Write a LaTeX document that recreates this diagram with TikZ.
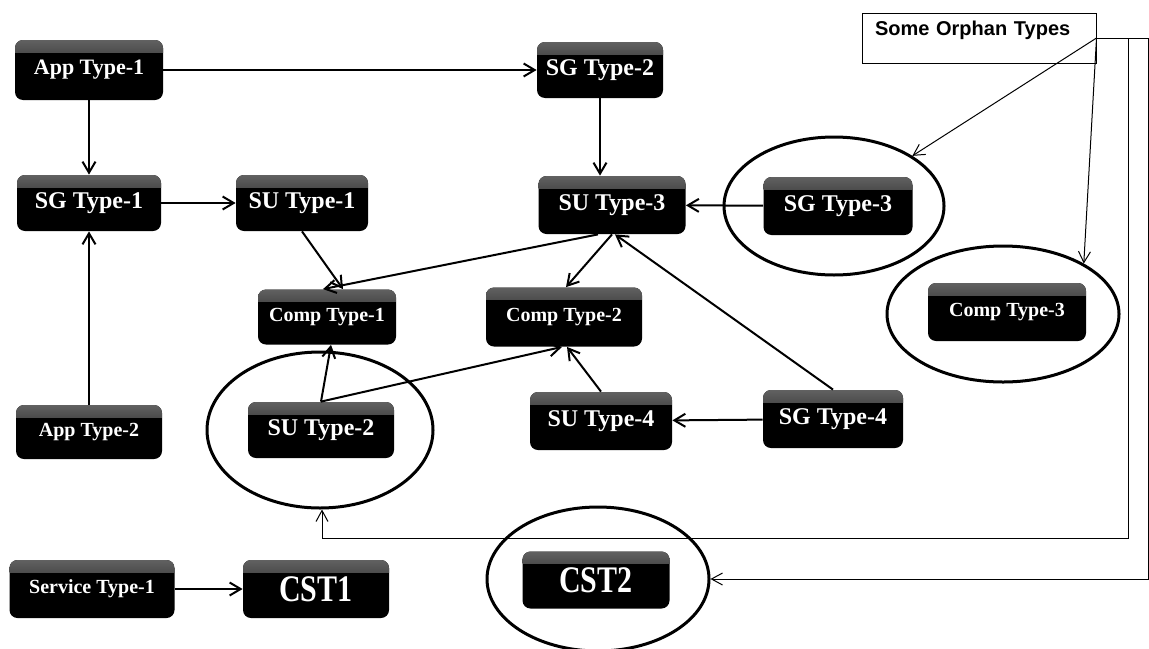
\documentclass[tikz,border=0pt]{standalone}
\usepackage{fontspec}
\setmainfont{Liberation Serif}
\newfontfamily\notefont{Liberation Sans}
\usepackage{graphicx}
\usetikzlibrary{arrows.meta,shapes.geometric,calc}

\begin{document}
\begin{tikzpicture}[x=0.5pt,y=-0.5pt,
  tbox/.style={rounded corners=4pt, fill=black, text=white, inner sep=0pt,
    path picture={\shade[sharp corners, top color=black!62, bottom color=black]
      (path picture bounding box.north west) rectangle ([yshift=-6pt]path picture bounding box.north east);}},
  fs/.style={font=\fontsize{10}{12}\selectfont\bfseries},
  fa/.style={font=\fontsize{11}{13}\selectfont\bfseries},
  fm/.style={font=\fontsize{12}{14}\selectfont\bfseries},
  fl/.style={font=\fontsize{15}{18}\selectfont\bfseries},
  ring/.style={draw, ellipse, line width=1.5pt, inner sep=0pt},
  link/.style={line width=1pt, -{Straight Barb[length=5.5pt,width=6.5pt]}},
  hint/.style={line width=0.5pt, -{Straight Barb[length=5.5pt,width=6pt]}},
  callout/.style={draw, line width=0.5pt, align=left, inner xsep=6.5pt, inner ysep=3pt,
    text width=104pt, text height=8pt, text depth=11pt,
    font=\notefont\fontsize{10}{12}\selectfont\bfseries}
]
\useasboundingbox (0,0) rectangle (1149,648);

% type boxes
\node[tbox, fa, minimum width=74pt,   minimum height=30pt]   (a1)  at (89,70)   {App Type-1};
\node[tbox, fm, minimum width=63pt,   minimum height=28pt]   (sg2) at (600,70)  {SG Type-2};
\node[tbox, fm, minimum width=72pt,   minimum height=28pt]   (sg1) at (89,203)  {SG Type-1};
\node[tbox, fm, minimum width=66pt,   minimum height=28pt]   (su1) at (302,203) {SU Type-1};
\node[tbox, fm, minimum width=73.5pt, minimum height=29pt]   (su3) at (612,205) {SU Type-3};
\node[tbox, fm, minimum width=74.5pt, minimum height=29pt]   (sg3) at (838,206) {SG Type-3};
\node[tbox, fs, minimum width=69pt,   minimum height=27.5pt] (c1)  at (327,317) {Comp Type-1};
\node[tbox, fs, minimum width=78pt,   minimum height=29.5pt] (c2)  at (564,317) {Comp Type-2};
\node[tbox, fs, minimum width=79pt,   minimum height=29pt]   (c3)  at (1007,312) {Comp Type-3};
\node[tbox, fs, minimum width=73pt,   minimum height=27pt]   (a2)  at (89,432)  {App Type-2};
\node[tbox, fm, minimum width=73pt,   minimum height=28pt]   (su2) at (321,430) {SU Type-2};
\node[tbox, fm, minimum width=71pt,   minimum height=29pt]   (su4) at (601,421) {SU Type-4};
\node[tbox, fm, minimum width=70pt,   minimum height=29pt]   (sg4) at (833,419) {SG Type-4};
\node[tbox, fs, minimum width=82.5pt, minimum height=29pt]   (st1) at (92,589)  {Service Type-1};
\node[tbox, fl, minimum width=73pt,   minimum height=29pt]   (cst1) at (316,589) {\scalebox{1}[1.25]{CST1}};
\node[tbox, fl, minimum width=73.5pt, minimum height=28.5pt] (cst2) at (596,580) {\scalebox{1}[1.25]{CST2}};

% rings around the orphan types
\node[ring, minimum width=110pt,  minimum height=69pt] (e3)    at (834,206) {};
\node[ring, minimum width=116pt,  minimum height=68pt] (ec3)   at (1003,314) {};
\node[ring, minimum width=113pt,  minimum height=78pt] (es2)   at (320,430) {};
\node[ring, minimum width=111pt,  minimum height=72pt] (ecst2) at (598,579) {};

% relations between types
\draw[link] (a1) -- (sg2);
\draw[link] (a1) -- (sg1);
\draw[link] (sg2.south) -- (sg2.south |- su3.north);
\draw[link] (sg1) -- (su1);
\draw[link] (a2) -- (sg1);
\draw[link] (su1.south) -- ($(c1.north)+(16,0)$);
\draw[link] ($(su3.south)+(-14,0)$) -- ($(c1.north)+(-4,0)$);
\draw[link] (su3.south) -- ($(c2.north)+(2,0)$);
\draw[link] (sg4.north) -- ($(su3.south)+(3,0)$);
\draw[link] (sg3) -- (su3);
\draw[link] (su2.north) -- ($(c1.south)+(4,0)$);
\draw[link] (su2.north) -- ($(c2.south)+(-2,0)$);
\draw[link] (su4.north) -- ($(c2.south)+(3,0)$);
\draw[link] (sg4) -- (su4);
\draw[link] (st1) -- (cst1);

% orphan note and its pointers
\node[callout] (note) at (979,38) {Some Orphan Types};
\draw[hint] (note.east) -- (e3);
\draw[hint] (note.east) -- (ec3.32);
\coordinate (r1) at (1148,38);
\draw[hint] (note.east) -- (r1) |- (ecst2.east);
\coordinate (r2) at (1128,38);
\coordinate (j) at (322,538);
\draw[hint] (r2) |- (j) -- (j |- es2.south);
\end{tikzpicture}
\end{document}
